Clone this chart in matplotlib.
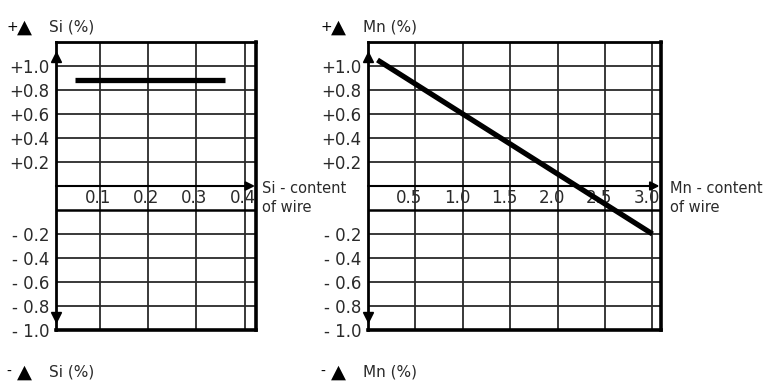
import numpy as np
import matplotlib.pyplot as plt
import matplotlib.transforms as mtransforms

# values (labelled % scale)
si_x = [0.05, 0.36]
si_y = [0.88, 0.88]
mn_x = [0.1, 3.0]
mn_y = [1.05, -0.2]

si_ticks = [0.1, 0.2, 0.3, 0.4]
mn_ticks = [0.5, 1.0, 1.5, 2.0, 2.5, 3.0]
y_pos_ticks = [1.0, 0.8, 0.6, 0.4, 0.2]
y_neg_ticks = [-0.2, -0.4, -0.6, -0.8, -1.0]

GAP = 0.2   # empty band between 0 and -0.2 that holds the x labels
YMIN, YMAX = -1.0, 1.2


def fwd(y):
    y = np.asarray(y, dtype=float)
    return np.where(y >= 0, y, y - GAP)


def inv(p):
    p = np.asarray(p, dtype=float)
    return np.where(p >= 0, p, np.minimum(p + GAP, 0))


def frac(p):
    # position in the axes (0..1) of a point on the stretched scale
    return float((p - fwd(YMIN)) / (fwd(YMAX) - fwd(YMIN)))


fig = plt.figure(figsize=(7.77, 3.82), dpi=100)
W, H = 777, 382
GRID = '#2a2a2a'
TXT = '#2a2a2a'


def make_axes(left, right, xlim, ticks, xs, ys, label_dx):
    ax = fig.add_axes([left / W, 1 - 330 / H, (right - left) / W, 288 / H])
    ax.set_yscale('function', functions=(fwd, inv))
    ax.set_xlim(*xlim)
    ax.set_ylim(YMIN, YMAX)
    ax.set_xticks(ticks)
    ax.set_yticks(y_pos_ticks + y_neg_ticks)
    ax.set_yticklabels(['+%.1f' % v for v in y_pos_ticks] +
                       ['- %.1f' % -v for v in y_neg_ticks])
    ax.tick_params(length=0, labelsize=12, pad=5, labelcolor=TXT)
    ax.tick_params(axis='x', labelbottom=False)
    ax.grid(True, color=GRID, lw=1.3)
    ax.set_axisbelow(True)
    for s in ax.spines.values():
        s.set_linewidth(2.0)
    ax.spines['right'].set_linewidth(2.6)
    ax.spines['bottom'].set_linewidth(2.6)

    # x axis with arrow
    ax.annotate('', xy=(0.995, 0), xycoords=('axes fraction', 'data'),
                xytext=(0, 0), textcoords=('axes fraction', 'data'),
                arrowprops=dict(arrowstyle='-|>', color='black', lw=1.5,
                                mutation_scale=13, shrinkA=0, shrinkB=0))
    # arrowheads on the y axis
    ax.plot([0], [frac(1.075)], marker='^', ms=7, color='black',
            transform=ax.transAxes, clip_on=False)
    ax.plot([0], [frac(-1.09)], marker='v', ms=7, color='black',
            transform=ax.transAxes, clip_on=False)

    # x tick labels inside the band
    fl = frac(-GAP / 2)
    trans = mtransforms.blended_transform_factory(ax.transData, ax.transAxes)
    trans = mtransforms.offset_copy(trans, fig=fig, x=label_dx, units='dots')
    for t in ticks:
        ax.text(t, fl, '%.1f' % t, transform=trans, ha='center', va='center',
                fontsize=12, color=TXT)

    ax.plot(xs, ys, color='black', lw=3.8, solid_capstyle='butt', zorder=4)

    # line under the x labels
    fb = frac(-GAP)
    ax.plot([0.0, 1.0], [fb, fb], transform=ax.transAxes, color='black',
            lw=1.8, zorder=3)
    return ax


ax1 = make_axes(56, 256, (0.01, 0.423), si_ticks, si_x, si_y, -2)
ax2 = make_axes(368, 661, (0.0, 3.09), mn_ticks, mn_x, mn_y, -6)


def header(x, y, sign, name):
    fig.text(x / W, 1 - y / H, sign, fontsize=10, ha='left', va='center')
    fig.text((x + 11) / W, 1 - y / H, '\u25B2', fontsize=14, ha='left', va='center')
    fig.text((x + 43) / W, 1 - y / H, name + ' (%)', fontsize=11,
             ha='left', va='center', color=TXT)


header(6, 27, '+', 'Si')
header(6, 372, '-', 'Si')
header(320, 27, '+', 'Mn')
header(320, 372, '-', 'Mn')

fig.text(262 / W, 1 - 198 / H, 'Si - content\nof wire', fontsize=10.5,
         ha='left', va='center', linespacing=1.3, color=TXT)
fig.text(670 / W, 1 - 198 / H, 'Mn - content\nof wire', fontsize=10.5,
         ha='left', va='center', linespacing=1.3, color=TXT)

fig.savefig('out.png', dpi=100)
